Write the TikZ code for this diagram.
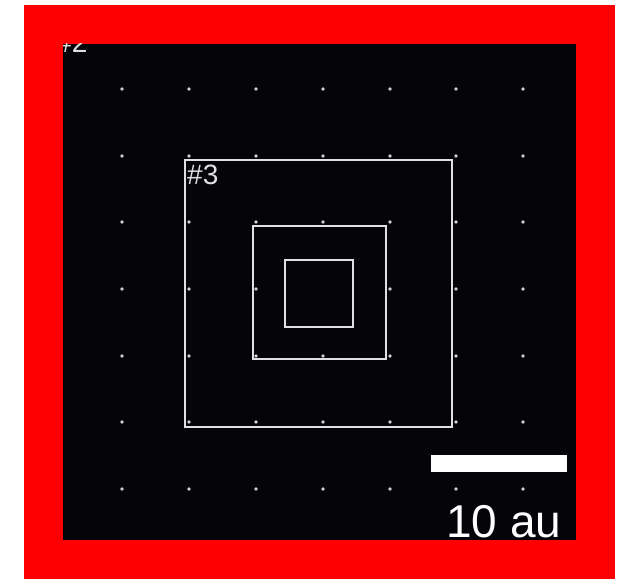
\documentclass[tikz,border=0pt]{standalone}
\usepackage{fontspec}
\setmainfont{Liberation Sans}
\definecolor{bgc}{HTML}{040409}
\definecolor{linec}{HTML}{E0E0E0}
\definecolor{dotc}{HTML}{D0D0D0}
\begin{document}
\begin{tikzpicture}[x=1pt,y=-1pt,
  sq/.style={draw=linec,line width=2.2pt},
  gdot/.style={fill=dotc},
  lbl/.style={text=linec,inner sep=0pt,font=\fontsize{28}{28}\selectfont},
  scaletext/.style={text=white,inner sep=0pt,font=\fontsize{46}{46}\selectfont}]
\useasboundingbox (0,0) rectangle (628,580);
\fill[white] (0,0) rectangle (628,580);
\fill[red] (24,5) rectangle (615,579);
\fill[bgc] (63,44) rectangle (576,540);
\begin{scope}
\clip (63,44) rectangle (576,540);
\foreach \x in {122,189,256,323,390,456,523}
  \foreach \y in {89,156,222,289,356,422,489}
    {\ifnum\x=323 \ifnum\y=289 \else \fill[gdot] (\x,\y) circle (1.8);\fi
     \else \fill[gdot] (\x,\y) circle (1.8);\fi}
\draw[sq] (185,160) rectangle (452,427);
\draw[sq] (253,226) rectangle (386,359);
\draw[sq] (285,260) rectangle (353,327);
\node[lbl,anchor=base west] (l3) at (187,184) {\#3};
\node[lbl,anchor=base west] (l2) at (56,53) {\#2};
\fill[white] (431,455) rectangle (567,472);
\node[scaletext,anchor=base west] (scale) at (446,537) {10 au};
\end{scope}
\end{tikzpicture}
\end{document}
